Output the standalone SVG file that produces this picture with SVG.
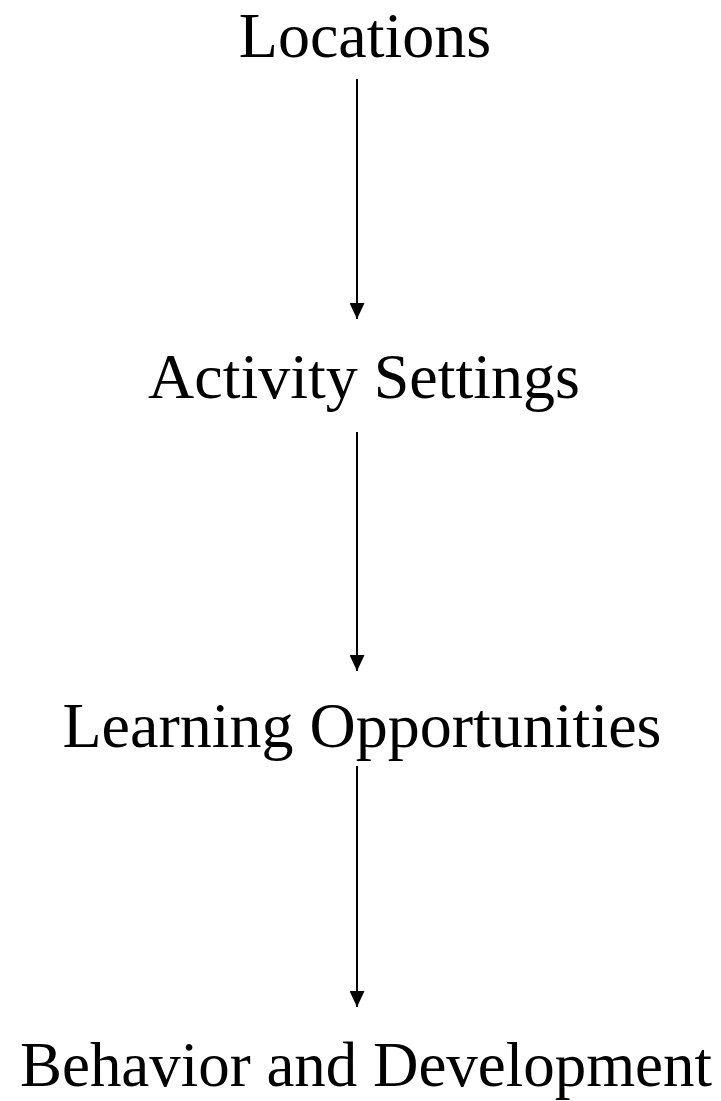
<svg xmlns="http://www.w3.org/2000/svg" width="721" height="1101" viewBox="0 0 721 1101">
<defs>
<style>
.lbl{font-family:"Liberation Serif","Times New Roman",serif;font-size:64px;fill:#000;text-anchor:middle}
.edge{stroke:#000;stroke-width:2;fill:none}
</style>
<marker id="ah" viewBox="0 0 16 15" refX="16" refY="7.5" markerWidth="16" markerHeight="15" markerUnits="userSpaceOnUse" orient="auto">
<path d="M0,0 L16,7.5 L0,15 Z" fill="#000"/>
</marker>
</defs>
<rect width="721" height="1101" fill="#fff"/>
<g id="connectors">
<line class="edge" x1="357" y1="79" x2="357" y2="319" marker-end="url(#ah)"/>
<line class="edge" x1="357" y1="432" x2="357" y2="671" marker-end="url(#ah)"/>
<line class="edge" x1="357" y1="766" x2="357" y2="1007" marker-end="url(#ah)"/>
</g>
<g id="n1"><text class="lbl" x="365" y="57">Locations</text></g>
<g id="n2"><text class="lbl" x="364" y="398">Activity Settings</text></g>
<g id="n3"><text class="lbl" x="362" y="747">Learning Opportunities</text></g>
<g id="n4"><text class="lbl" x="366" y="1086" textLength="692" lengthAdjust="spacingAndGlyphs">Behavior and Development</text></g>
</svg>
